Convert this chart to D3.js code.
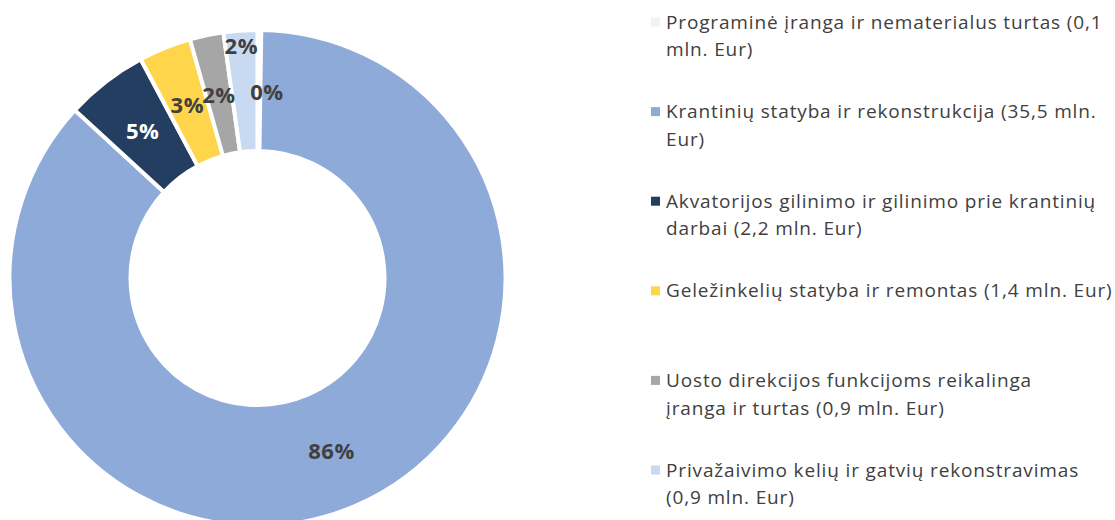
<!DOCTYPE html>
<html>
<head>
<meta charset="utf-8">
<script src="https://cdn.jsdelivr.net/npm/d3@7"></script>
<style>
  body { margin: 0; background: #fff; overflow: hidden; }
  svg { display: block; }
  .lbl { font-family: "Open Sans", sans-serif; font-weight: 700; font-size: 22px; letter-spacing: 0.6px; }
  .leg text { font-family: "Open Sans", sans-serif; font-size: 19px; letter-spacing: 0.85px; fill: #404040; }
</style>
</head>
<body>
<svg width="1115" height="520"></svg>
<script>
// categories (legend text, wrapped as in the original)
var categories = [
    "Programinė įranga ir nematerialus turtas (0,1\nmln. Eur)",
    "Krantinių statyba ir rekonstrukcija (35,5 mln.\nEur)",
    "Akvatorijos gilinimo ir gilinimo prie krantinių\ndarbai (2,2 mln. Eur)",
    "Geležinkelių statyba ir remontas (1,4 mln. Eur)",
    "Uosto direkcijos funkcijoms reikalinga\nįranga ir turtas (0,9 mln. Eur)",
    "Privažaivimo kelių ir gatvių rekonstravimas\n(0,9 mln. Eur)"
];
// values in mln. Eur
var values = [0.1, 35.5, 2.2, 1.4, 0.9, 0.9];
// percentage labels as shown on the chart
var pctLabels = ["0%", "86%", "5%", "3%", "2%", "2%"];
var colorsList = ["#f2f2f2", "#8eaad8", "#243e62", "#ffd54c", "#a6a6a6", "#c8daf2"];

var svg = d3.select("svg"),
    cx = 257.5,
    cy = 278,
    outerR = 248,
    innerR = 127;

var color = d3.scaleOrdinal().domain(categories).range(colorsList);

var data = categories.map(function (c, i) {
    return { name: c, value: values[i], pct: pctLabels[i], idx: i };
});

var pie = d3.pie()
    .value(function (d) { return d.value; })
    .sort(null);

var arc = d3.arc()
    .innerRadius(innerR)
    .outerRadius(outerR);

var g = svg.append("g")
    .attr("transform", "translate(" + cx + "," + cy + ")");

var arcs = pie(data);

g.selectAll("path.slice")
    .data(arcs)
    .enter()
    .append("path")
    .attr("class", "slice")
    .attr("d", arc)
    .attr("fill", function (d) { return color(d.data.name); })
    .attr("stroke", "#fff")
    .attr("stroke-width", 4);

// label radius: centroid by default, the small light blue slice label pushed out
var labelArc = d3.arc().innerRadius(innerR).outerRadius(outerR);
var outArc = d3.arc().innerRadius(234).outerRadius(234);

g.selectAll("text.lbl")
    .data(arcs)
    .enter()
    .append("text")
    .attr("class", "lbl")
    .attr("text-anchor", "middle")
    .attr("dominant-baseline", "central")
    .attr("transform", function (d) {
        var p = d.data.idx === 5 ? outArc.centroid(d) : labelArc.centroid(d);
        if (d.data.idx === 0) p[0] += 8;
        return "translate(" + p[0] + "," + p[1] + ")";
    })
    .attr("fill", function (d) { return d.data.idx === 2 ? "#ffffff" : "#404040"; })
    .text(function (d) { return d.data.pct; });

// legend
var ly = d3.scalePoint().domain(categories).range([22, 470]);

var leg = svg.append("g")
    .attr("class", "leg")
    .selectAll("g")
    .data(data)
    .enter()
    .append("g")
    .attr("transform", function (d) { return "translate(651," + ly(d.name) + ")"; });

leg.append("rect")
    .attr("x", 0)
    .attr("y", -4.5)
    .attr("width", 9)
    .attr("height", 9)
    .attr("fill", function (d) { return color(d.name); });

leg.append("text")
    .attr("x", 15)
    .attr("y", 0)
    .selectAll("tspan")
    .data(function (d) { return d.name.split("\n"); })
    .enter()
    .append("tspan")
    .attr("x", 15)
    .attr("dy", function (d, i) { return i === 0 ? "0.35em" : 27.5; })
    .text(function (d) { return d; });
</script>
</body>
</html>
